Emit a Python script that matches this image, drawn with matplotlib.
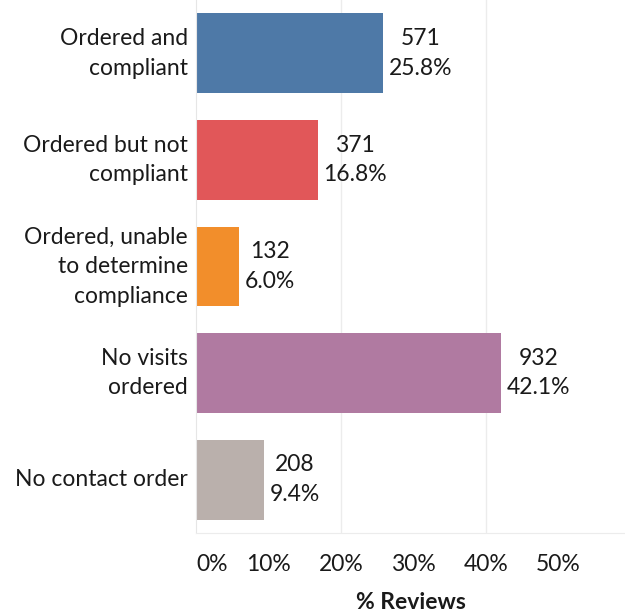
import matplotlib
matplotlib.use("Agg")
import matplotlib.pyplot as plt

categories = ["Ordered and\ncompliant", "Ordered but not\ncompliant",
              "Ordered, unable\nto determine\ncompliance", "No visits\nordered",
              "No contact order"]
counts = [571, 371, 132, 932, 208]
percents = [25.8, 16.8, 6.0, 42.1, 9.4]
colors = ["#4e79a7", "#e15759", "#f28e2b", "#b07aa1", "#bab0ac"]
tick_vals = [0, 10, 20, 30, 40, 50]

plt.rcParams["font.family"] = ["Lato", "DejaVu Sans"]
FS = 16.5

fig = plt.figure(figsize=(6.25, 6.13), dpi=100)
ax = fig.add_axes([0.3136, 0.1305, 0.6864, 0.8695])

ypos = range(len(categories))
ax.barh(ypos, percents, height=0.75, color=colors)

for y, c, p in zip(ypos, counts, percents):
    ax.annotate(f"{c}\n{p:.1f}%", (p, y), xytext=(4, 0), textcoords="offset points",
                ha="left", va="center", multialignment="center",
                fontsize=FS, linespacing=1.5, color="#1a1a1a")

ax.set_ylim(4.5, -0.5)
ax.set_xlim(0, 59.2)
ax.set_yticks(list(ypos))
ax.set_yticklabels(categories, fontsize=FS, linespacing=1.5, color="#1a1a1a", va="center")
ax.set_xticks(tick_vals)
ax.set_xticklabels([f"{v}%" for v in tick_vals], fontsize=FS, color="#1a1a1a")
ax.get_xticklabels()[0].set_horizontalalignment("left")
ax.tick_params(axis="both", length=0)
ax.tick_params(axis="x", pad=15)
ax.tick_params(axis="y", pad=6)

for g in [20, 40]:
    ax.axvline(g, color="#ececec", linewidth=1, zorder=0)

for s in ["top", "right"]:
    ax.spines[s].set_visible(False)
ax.spines["left"].set_color("#e6e6e6")
ax.spines["bottom"].set_color("#ececec")

ax.set_xlabel("% Reviews", fontsize=FS, fontweight="bold", labelpad=12, color="#1a1a1a")

fig.savefig("out.png", dpi=100)
